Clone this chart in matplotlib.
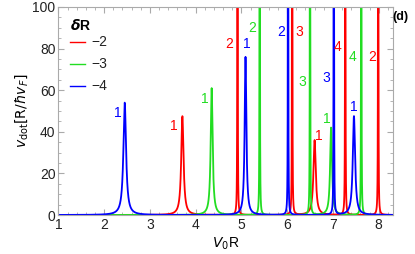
import numpy as np
import matplotlib.pyplot as plt
from matplotlib.ticker import MultipleLocator

plt.rcParams['font.family'] = ['Liberation Sans', 'DejaVu Sans']

# peak centres (V0 R), heights and half widths for each delta R
red_x = [3.71, 4.915, 6.11, 6.60, 7.27, 7.99]
red_h = [47.5, 4000, 4000, 36, 4000, 4000]
red_w = [0.03, 0.001, 0.001, 0.03, 0.001, 0.001]

green_x = [4.35, 5.40, 6.50, 6.96, 7.62]
green_h = [61, 4000, 4000, 42, 4000]
green_w = [0.025, 0.001, 0.001, 0.025, 0.001]

blue_x = [2.45, 5.09, 6.02, 7.02, 7.46]
blue_h = [54, 76, 4000, 4000, 47.5]
blue_w = [0.035, 0.022, 0.001, 0.001, 0.03]

labels = ["\u22122", "\u22123", "\u22124"]
colors = ["#ff0000", "#22dd22", "#0000ff"]

# mode number annotations (x, y, text, series index)
ann = [(2.30, 49, "1", 2), (3.53, 43, "1", 0), (4.20, 56, "1", 1),
       (4.73, 82, "2", 0), (5.11, 82, "1", 2), (5.24, 90, "2", 1),
       (5.86, 88, "2", 2), (6.27, 88, "3", 0), (6.33, 64, "3", 1),
       (6.70, 38, "1", 0), (6.87, 46, "1", 1), (6.86, 66, "3", 2),
       (7.11, 81, "4", 0), (7.45, 52, "1", 2), (7.42, 76, "4", 1),
       (7.85, 76, "2", 0)]

x = np.linspace(1, 8.32, 40000)


def curve(xs, hs, ws):
    y = np.zeros_like(x)
    for x0, h, g in zip(xs, hs, ws):
        y += h * g**2 / ((x - x0)**2 + g**2)
    return y


fig = plt.figure(figsize=(4.15, 2.54), dpi=100)
ax = fig.add_axes([0.1407, 0.1535, 0.807, 0.819])

series = [(red_x, red_h, red_w), (green_x, green_h, green_w), (blue_x, blue_h, blue_w)]
for (xs, hs, ws), lab, c in zip(series, labels, colors):
    ax.plot(x, curve(xs, hs, ws), color=c, lw=1.3)

for tx, ty, t, i in ann:
    ax.text(tx, ty, t, color=colors[i], fontsize=10, ha="center", va="center")

ax.set_xlim(1, 8.32)
ax.set_ylim(0, 100)
ax.xaxis.set_major_locator(MultipleLocator(1))
ax.xaxis.set_minor_locator(MultipleLocator(0.2))
ax.yaxis.set_major_locator(MultipleLocator(20))
ax.yaxis.set_minor_locator(MultipleLocator(5))
ax.tick_params(which="both", direction="in", top=True, right=True,
               color="#aaaaaa", labelsize=10, pad=2, labelcolor="#222222")
ax.tick_params(which="major", length=4)
ax.tick_params(which="minor", length=2)
for s in ax.spines.values():
    s.set_color("#aaaaaa")

ax.set_xlabel("$V_0$R", fontsize=10, labelpad=3)
ax.set_ylabel("$v_{\\rm dot}[{\\rm R}/\\hbar v_F]$", fontsize=10, labelpad=2)

# legend drawn by hand (Mathematica style)
ax.text(0.035, 0.913, "$\\boldsymbol{\\delta}$R", transform=ax.transAxes,
        fontsize=10, fontweight="bold", ha="left", va="center")
for k, (lab, c) in enumerate(zip(labels, colors)):
    yy = 0.830 - 0.105 * k
    ax.plot([0.035, 0.080], [yy, yy], transform=ax.transAxes, color=c, lw=1.0)
    ax.text(0.098, yy, lab, transform=ax.transAxes, fontsize=10,
            ha="left", va="center", color="#222222")

fig.text(0.985, 0.935, "(d)", fontsize=9, fontweight="bold", ha="right", va="center")

plt.savefig("out.png", dpi=100)
